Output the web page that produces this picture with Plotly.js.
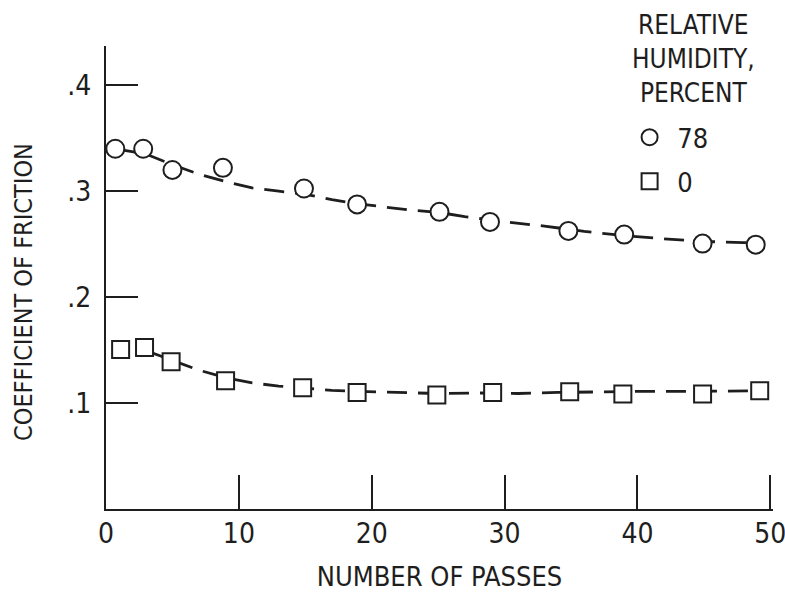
<!DOCTYPE html>
<html><head><meta charset="utf-8">
<script src="https://cdn.plot.ly/plotly-3.0.1.min.js"></script>
<style>html,body{margin:0;padding:0;background:#fff}</style>
</head><body><div id="chart" style="width:785px;height:592px"></div>
<script>
// Measured points (number of passes vs coefficient of friction)
const passes78 = [0.7, 2.8, 5.0, 8.8, 14.9, 18.9, 25.1, 28.9, 34.8, 39.0, 44.9, 48.9];
const friction78 = [0.340, 0.340, 0.320, 0.322, 0.3025, 0.2875, 0.2805, 0.271, 0.2625, 0.259, 0.2505, 0.2495];
const passes0 = [1.1, 2.9, 4.9, 9.0, 14.8, 18.9, 24.9, 29.1, 34.9, 38.9, 44.9, 49.2];
const friction0 = [0.1505, 0.1525, 0.139, 0.121, 0.1145, 0.110, 0.1075, 0.110, 0.1107, 0.1085, 0.1085, 0.1115];
// Faired (dashed) curves
const curveX78 = [0.7, 3, 5, 7, 9, 11, 13, 15, 17, 19, 21, 23, 25, 27, 30, 33, 36, 39, 42, 45, 48, 49];
const curveY78 = [0.340, 0.335, 0.325, 0.316, 0.309, 0.303, 0.300, 0.297, 0.292, 0.288, 0.285, 0.282, 0.280, 0.276, 0.271, 0.267, 0.262, 0.258, 0.255, 0.2525, 0.2515, 0.251];
const curveX0 = [2.9, 5, 7, 9, 11, 13, 15, 17, 19, 21, 23, 25, 28, 31, 34, 37, 40, 43, 46, 49];
const curveY0 = [0.150, 0.140, 0.131, 0.124, 0.119, 0.116, 0.114, 0.112, 0.111, 0.1105, 0.1098, 0.109, 0.1095, 0.109, 0.110, 0.1107, 0.111, 0.111, 0.111, 0.1115];
const xTickVals = [0, 10, 20, 30, 40, 50];
const xTickText = ['0', '10', '20', '30', '40', '50'];
const yTickVals = [0.1, 0.2, 0.3, 0.4];
const yTickText = ['.1', '.2', '.3', '.4'];
const seriesNames = ['78', '0'];

const FONT = 'DejaVu Sans Condensed, Liberation Sans Narrow, sans-serif';
const INK = '#1e1e1e';

const traces = [
  {x: curveX78, y: curveY78, mode: 'lines', showlegend: false, hoverinfo: 'skip',
   line: {color: INK, width: 2.8, dash: '20px,11px'}},
  {x: curveX0, y: curveY0, mode: 'lines', showlegend: false, hoverinfo: 'skip',
   line: {color: INK, width: 2.8, dash: '20px,11px'}},
  {x: passes78, y: friction78, mode: 'markers', name: '\u00a0' + seriesNames[0], legendgroup: 'a',
   marker: {symbol: 'circle', size: 18, color: '#fff', line: {color: INK, width: 2}}},
  {x: passes0, y: friction0, mode: 'markers', name: '\u00a0' + seriesNames[1], legendgroup: 'b',
   marker: {symbol: 'square', size: 17, color: '#fff', line: {color: INK, width: 2}}}
];

const layout = {
  width: 785, height: 592,
  margin: {l: 106, r: 12, t: 46, b: 83},
  paper_bgcolor: '#fff', plot_bgcolor: '#fff',
  font: {family: FONT, color: INK, size: 28},
  showlegend: true,
  legend: {x: 0.785, y: 0.855, xanchor: 'left', yanchor: 'top', bgcolor: 'rgba(0,0,0,0)',
           font: {family: FONT, size: 27, color: INK}, traceorder: 'grouped', tracegroupgap: 6},
  xaxis: {range: [0, 50.2], showgrid: false, zeroline: false, showline: true, linecolor: INK, linewidth: 2,
          ticks: 'inside', ticklen: 34, tickwidth: 2, tickcolor: INK,
          tickmode: 'array', tickvals: xTickVals, ticktext: xTickText, ticklabeloverflow: 'allow',
          tickfont: {family: FONT, size: 28, color: INK}, ticklabelstandoff: -2,
          title: {text: 'NUMBER OF PASSES', font: {family: FONT, size: 27, color: INK}, standoff: 20}},
  yaxis: {range: [0, 0.437], showgrid: false, zeroline: false, showline: true, linecolor: INK, linewidth: 2,
          ticks: 'inside', ticklen: 32, tickwidth: 2, tickcolor: INK,
          tickmode: 'array', tickvals: yTickVals, ticktext: yTickText,
          tickfont: {family: FONT, size: 28, color: INK}, ticklabelstandoff: 7},
  annotations: [
    {xref: 'paper', yref: 'paper', x: 0.881, y: 1.082, xanchor: 'center', yanchor: 'top',
     text: 'RELATIVE<br>HUMIDITY,<br>PERCENT', showarrow: false, align: 'center',
     font: {family: FONT, size: 26, color: INK}},
    {xref: 'paper', yref: 'paper', x: (23 - 106) / 667, y: (509 - 292) / 463, xanchor: 'center', yanchor: 'middle',
     text: 'COEFFICIENT OF FRICTION', textangle: -90, showarrow: false,
     font: {family: FONT, size: 25, color: INK}}
  ]
};

Plotly.newPlot('chart', traces, layout, {displayModeBar: false, staticPlot: true});
</script></body></html>
